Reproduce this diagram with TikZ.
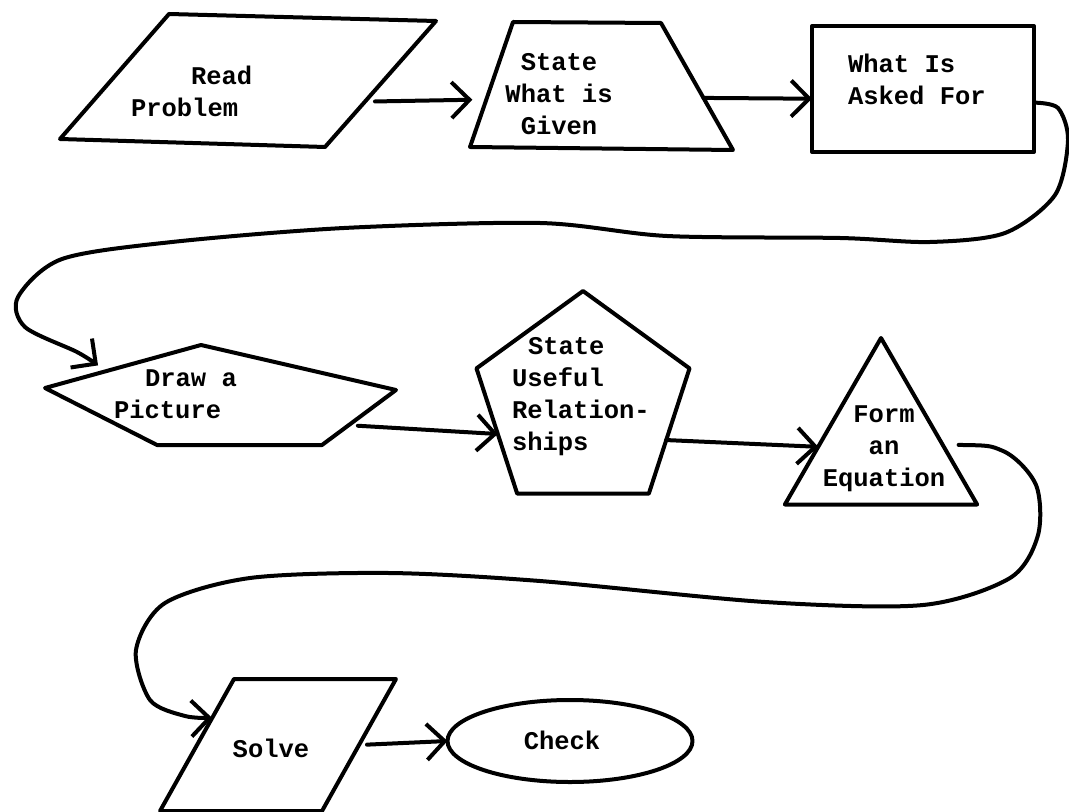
\documentclass[tikz,border=0pt]{standalone}
\usepackage{fontspec}
\setmonofont{Liberation Mono}
\usetikzlibrary{arrows.meta,shapes.geometric}

\begin{document}
\begin{tikzpicture}[x=0.5pt,y=-0.5pt,line width=2pt,line join=round,line cap=round,
  >={Straight Barb[length=9pt,width=18pt]},
  box/.style={draw,inner sep=0pt,outer sep=0pt},
  txt/.style={font=\ttfamily\bfseries\fontsize{12.75}{16}\selectfont,inner sep=0pt},
  flow/.style={->}]

\useasboundingbox (0,0) rectangle (1069,812);

% the boxes
\draw (169,14) -- (436,21) -- coordinate[pos=0.64] (read-out) (325,147) -- (60,139) -- cycle;
\draw (470,147) -- coordinate[pos=0.38] (given-in) (513,22) -- (661,23)
  -- coordinate[pos=0.59] (given-out) (733,150) -- cycle;
\node[box,rectangle,minimum width=111pt,minimum height=63pt] (asked) at (923,89) {};
\draw (45,388) -- coordinate[pos=0.34,yshift=4pt] (pic-in) (201,345) -- (396,390)
  -- coordinate[pos=0.65,xshift=5pt] (pic-out) (322,445) -- (157,445) -- cycle;
\node[box,regular polygon,regular polygon sides=5,minimum size=112pt] (rel) at (583,403) {};
\node[box,regular polygon,regular polygon sides=3,minimum size=111pt] (eqn) at (881,449) {};
\draw (160,811) -- coordinate[pos=0.705] (solve-in) (234,679) -- (396,679)
  -- coordinate[pos=0.5] (solve-out) (322,811) -- cycle;
\node[box,ellipse,minimum width=122.5pt,minimum height=41pt] (check) at (570,741) {};

% the texts
\node[txt,align=left,anchor=west] (read-t) at (129,91) {\hspace*{30pt}Read\\Problem};
\node[txt,align=center] (given-t) at (559,94) {State\\What is\\Given};
\node[txt,align=left,anchor=west] (asked-t) at (846,79) {What Is\\Asked For};
\node[txt,align=left,anchor=west] (picture-t) at (112,394) {\hspace*{15.5pt}Draw a\\Picture};
\node[txt,align=left,anchor=west] (rel-t) at (510,397) {\hspace*{8pt}State\\Useful\\Relation-\\ships};
\node[txt,align=center] (eqn-t) at (884,449) {Form\\an\\Equation};
\node[txt] (solve-t) at (271,748) {Solve};
\node[txt] (check-t) at (562,740) {Check};

% the arrows
\draw[flow,shorten <=5pt,shorten >=7pt] (read-out) -- (given-in);
\draw[flow] (given-out) -- (asked.185);
\draw[flow] plot[smooth] coordinates {(asked.-7) (1058,108) (1068,140) (1055,195) (1005,233)
  (930,242) (840,238) (667,236) (540,223) (344,228) (172,242) (62,259) (18,297) (25,327)
  (77,352) (pic-in)};
\draw[flow] (pic-out) -- (rel.200);
\draw[flow] (rel.-24) -- (eqn.178);
\draw[flow,shorten <=8pt] plot[smooth] coordinates {(eqn.4) (1003,451) (1036,485) (1038,535)
  (1010,578) (923,605) (765,602) (540,581) (389,573) (250,578) (165,603) (136,650) (150,700)
  (185,716) (solve-in)};
\draw[flow,shorten <=4pt] (solve-out) -- (check.west);

\end{tikzpicture}
\end{document}
